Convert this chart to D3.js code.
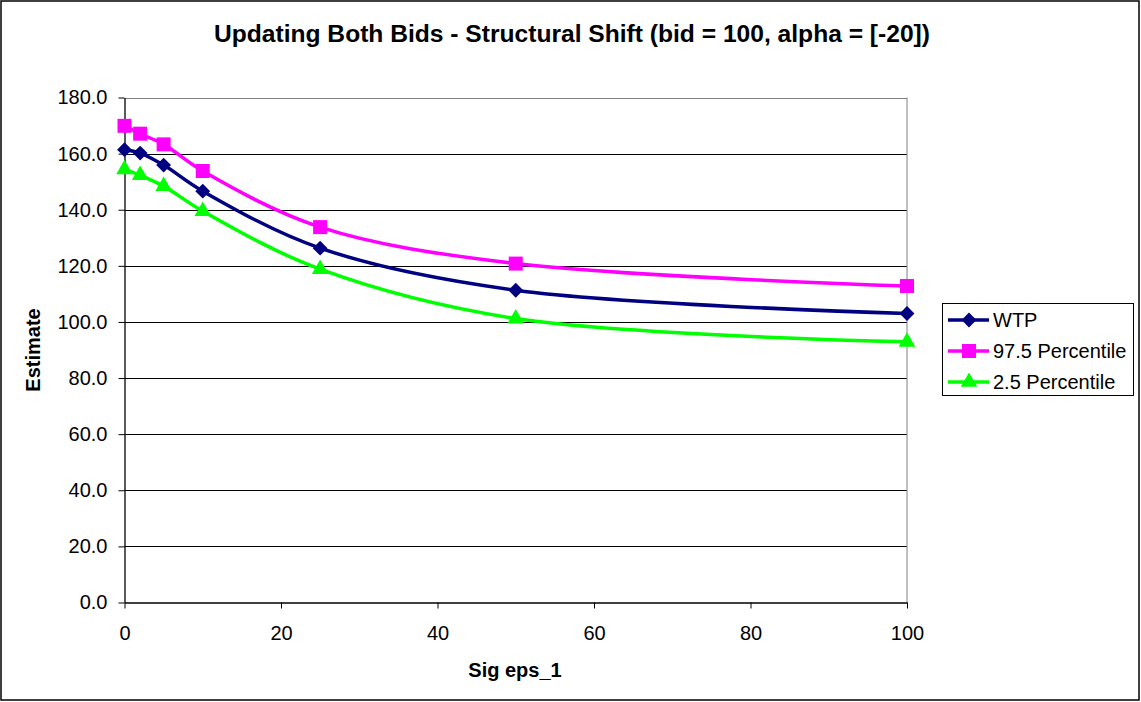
<!DOCTYPE html>
<html>
<head>
<meta charset="utf-8">
<script src="https://cdn.jsdelivr.net/npm/d3@7"></script>
<style>
  body { margin: 0; background: #fff; }
  text { font-family: "Liberation Sans", Arial, sans-serif; fill: #000; }
</style>
</head>
<body>
<script>
// data
var sigEps = [0, 2, 5, 10, 25, 50, 100];
var wtp = [161.4, 160.2, 155.9, 146.6, 126.3, 111.3, 103.0];
var upper = [169.9, 167.1, 163.3, 153.8, 133.8, 120.8, 112.8];
var lower = [154.4, 152.3, 148.4, 139.5, 118.8, 101.2, 92.9];
var yTicks = [0, 20, 40, 60, 80, 100, 120, 140, 160, 180];
var xTicks = [0, 20, 40, 60, 80, 100];

var series = [
  { name: "WTP", values: wtp, color: "#000080", shape: "diamond" },
  { name: "97.5 Percentile", values: upper, color: "#ff00ff", shape: "square" },
  { name: "2.5 Percentile", values: lower, color: "#00ff00", shape: "triangle" }
];

var w = 1141, h = 702;
var plotLeft = 124.5, plotRight = 907, plotTop = 97.5, plotBottom = 602.5;

var svg = d3.select("body").append("svg")
    .attr("width", w)
    .attr("height", h);

svg.append("rect")
    .attr("x", 1).attr("y", 1)
    .attr("width", w - 3).attr("height", h - 3)
    .attr("fill", "#fff")
    .attr("stroke", "#000")
    .attr("stroke-width", 1.5);

var x = d3.scaleLinear().domain([0, 100]).range([plotLeft, plotRight]);
var y = d3.scaleLinear().domain([0, 180]).range([plotBottom, plotTop]);

// gridlines
svg.append("g").selectAll("line")
    .data(yTicks.slice(1))
    .enter().append("line")
    .attr("x1", plotLeft).attr("x2", plotRight)
    .attr("y1", function(d) { return Math.round(y(d)) + 0.5; })
    .attr("y2", function(d) { return Math.round(y(d)) + 0.5; })
    .attr("stroke", function(d) { return d === 180 ? "#808080" : "#000"; })
    .attr("stroke-width", 1);

// plot area right border
svg.append("line")
    .attr("x1", plotRight).attr("x2", plotRight)
    .attr("y1", plotTop).attr("y2", plotBottom)
    .attr("stroke", "#808080");

var yAxis = svg.append("g")
    .attr("transform", "translate(" + plotLeft + ",0)")
    .call(d3.axisLeft(y).tickValues(yTicks).tickSize(6).tickPadding(11)
        .tickSizeOuter(0).tickFormat(d3.format(".1f")));

var xAxis = svg.append("g")
    .attr("transform", "translate(0," + plotBottom + ")")
    .call(d3.axisBottom(x).tickValues(xTicks).tickSize(6).tickPadding(17)
        .tickSizeOuter(0));

[yAxis, xAxis].forEach(function(a) {
  a.select(".domain").attr("stroke", "#000").attr("stroke-width", 1.3);
  a.selectAll(".tick line").attr("stroke", "#000");
  a.selectAll("text")
      .style("font-family", "'Liberation Sans', Arial, sans-serif")
      .style("font-size", "20px")
      .attr("fill", "#000");
});

var line = d3.line()
    .x(function(d, i) { return x(sigEps[i]); })
    .y(function(d) { return y(d); })
    .curve(d3.curveCatmullRom.alpha(0.5));

series.forEach(function(s) {
  svg.append("path")
      .datum(s.values)
      .attr("d", line)
      .attr("fill", "none")
      .attr("stroke", s.color)
      .attr("stroke-width", 3.5);
});

// marker shapes: diamond is a square turned 45 degrees
function marker(shape) {
  if (shape === "square") return d3.symbol().type(d3.symbolSquare).size(196)();
  if (shape === "diamond") return d3.symbol().type(d3.symbolSquare).size(110)();
  return d3.symbol().type(d3.symbolTriangle).size(120)();
}
function rot(shape) { return shape === "diamond" ? " rotate(45)" : ""; }

series.forEach(function(s) {
  svg.append("g").selectAll("path")
      .data(s.values)
      .enter().append("path")
      .attr("transform", function(d, i) {
        return "translate(" + x(sigEps[i]) + "," + y(d) + ")" + rot(s.shape);
      })
      .attr("d", marker(s.shape))
      .attr("fill", s.color);
});

// title and axis labels
svg.append("text")
    .attr("x", 572).attr("y", 42)
    .attr("text-anchor", "middle")
    .style("font-size", "24.6px").style("font-weight", "bold")
    .text("Updating Both Bids - Structural Shift (bid = 100, alpha = [-20])");

svg.append("text")
    .attr("x", 515).attr("y", 677)
    .attr("text-anchor", "middle")
    .style("font-size", "20px").style("font-weight", "bold")
    .text("Sig eps_1");

svg.append("text")
    .attr("transform", "translate(40,350) rotate(-90)")
    .attr("text-anchor", "middle")
    .style("font-size", "20px").style("font-weight", "bold")
    .text("Estimate");

// legend
var legend = svg.append("g");
legend.append("rect")
    .attr("x", 942.5).attr("y", 303.5)
    .attr("width", 191).attr("height", 92)
    .attr("fill", "#fff").attr("stroke", "#000");

var rows = legend.selectAll("g.row")
    .data(series)
    .enter().append("g")
    .attr("class", "row")
    .attr("transform", function(d, i) { return "translate(0," + (320 + i * 31) + ")"; });

rows.append("line")
    .attr("x1", 948).attr("x2", 989)
    .attr("stroke", function(d) { return d.color; })
    .attr("stroke-width", 3.5);

rows.append("path")
    .attr("transform", function(d) { return "translate(969,0)" + rot(d.shape); })
    .attr("d", function(d) { return marker(d.shape); })
    .attr("fill", function(d) { return d.color; });

rows.append("text")
    .attr("x", 993).attr("y", 7)
    .style("font-size", "20px")
    .text(function(d) { return d.name; });
</script>
</body>
</html>
